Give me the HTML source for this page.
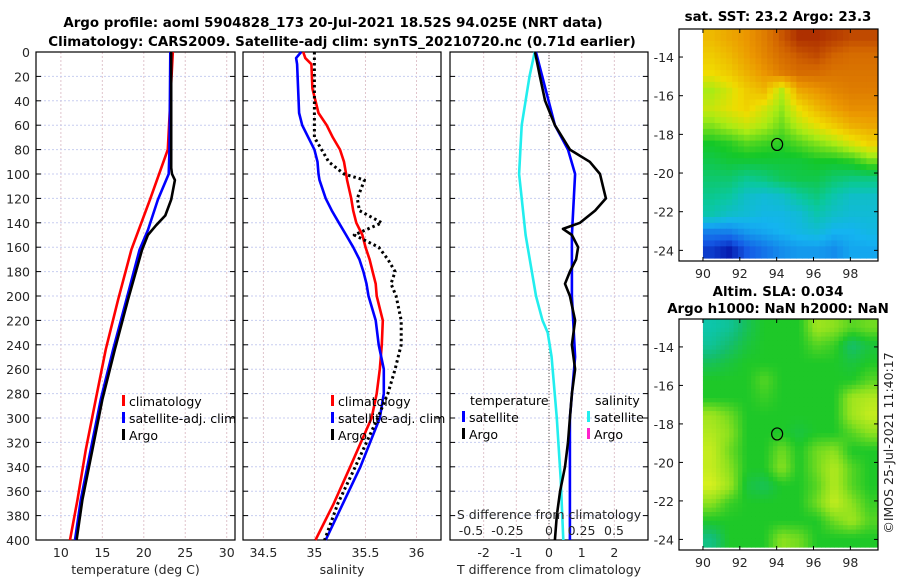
<!DOCTYPE html>
<html><head><meta charset="utf-8"><style>
body{margin:0;background:#fff}
svg{font-family:"DejaVu Sans","Liberation Sans",sans-serif;display:block}
.tk{font-size:12.5px;fill:#262626}
.tt{font-size:13.4px;font-weight:bold;fill:#000}
.lg{font-size:12.5px;fill:#000}
</style></head><body>
<svg id="c" width="900" height="580" viewBox="0 0 900 580">
<text class="tt" x="333" y="27" text-anchor="middle">Argo profile: aoml 5904828_173 20-Jul-2021 18.52S 94.025E (NRT data)</text>
<text class="tt" x="342" y="46" text-anchor="middle">Climatology: CARS2009. Satellite-adj clim: synTS_20210720.nc (0.71d earlier)</text>
<text class="tt" x="778" y="21" text-anchor="middle">sat. SST: 23.2 Argo: 23.3</text>
<text class="tt" x="778" y="296" text-anchor="middle">Altim. SLA: 0.034</text>
<text class="tt" x="778" y="313" text-anchor="middle">Argo h1000: NaN h2000: NaN</text>
<text class="tk" transform="translate(893,443) rotate(-90)" text-anchor="middle">©IMOS 25-Jul-2021 11:40:17</text>
<g id="g"></g>
</svg>
<script>
// ---- profile data ----
const depthClimT=[0,80,121,162,203,244,285,326,367,400];
const climT=[23.5,22.9,20.75,18.5,16.9,15.4,14.2,13.0,12.0,11.1];
const depthSatT=[0,80,100,121,146,162,203,244,285,326,367,400];
const satT=[23.2,23.1,23.0,21.7,20.5,19.5,17.9,16.3,14.8,13.6,12.4,11.7];
const depthArgoT=[0,95,100,105,121,134,142,150,162,203,244,285,326,367,400];
const argoT=[23.3,23.3,23.4,23.75,23.3,22.6,21.5,20.5,19.8,18.1,16.5,15.0,13.8,12.6,11.9];

const depthS=[0,5,10,30,50,60,70,80,90,100,105,120,130,140,150,160,170,180,190,200,220,240,260,280,300,340,370,400];
const climS=[34.89,34.91,34.97,34.98,35.04,35.12,35.18,35.25,35.29,35.31,35.32,35.36,35.38,35.41,35.47,35.5,35.54,35.57,35.6,35.61,35.67,35.66,35.64,35.61,35.56,35.35,35.19,35.01];
const satS=[34.87,34.82,34.83,34.84,34.85,34.88,34.94,35.0,35.03,35.04,35.05,35.11,35.17,35.24,35.31,35.38,35.44,35.48,35.51,35.53,35.6,35.63,35.68,35.68,35.64,35.45,35.28,35.11];
const argoS=[35.0,35.0,35.0,35.0,35.0,35.0,35.0,35.07,35.14,35.29,35.49,35.42,35.44,35.66,35.39,35.63,35.72,35.79,35.75,35.8,35.85,35.85,35.79,35.72,35.62,35.4,35.23,35.1];

const depthD=[0,20,40,60,80,90,100,110,120,130,140,145,150,160,170,180,190,200,220,240,260,280,300,320,340,360,380,400];
const argoDT=[-0.43,-0.28,-0.12,0.18,0.64,1.25,1.56,1.65,1.74,1.41,0.95,0.43,0.7,0.89,0.83,0.64,0.49,0.64,0.8,0.7,0.8,0.7,0.64,0.58,0.49,0.34,0.24,0.18];
const depthSatD=[0,60,80,100,150,200,250,300,400];
const satDT=[-0.4,0.18,0.58,0.8,0.7,0.7,0.8,0.64,0.64];
const depthCy=[0,20,40,60,80,100,150,200,220,230,250,300,350,400];
const satDS=[-0.11,-0.15,-0.18,-0.21,-0.22,-0.23,-0.18,-0.1,-0.05,-0.01,0.02,0.06,0.09,0.11];

const tTicks=[10,15,20,25,30], sTicks=[34.5,35,35.5,36], dTicks=[-2,-1,0,1,2];
const dsTickLabels=["-0.5","-0.25","0","0.25","0.5"];
const dsTickVals=[-0.6,-0.32,0,0.25,0.5];
const yTicks=[0,20,40,60,80,100,120,140,160,180,200,220,240,260,280,300,320,340,360,380,400];

// ---- map data (rows north->south, cols west->east) ----
const sstRows=[
[24.6,24.8,25,25.3,25.7,26,26,25.9,25.8,25.8],
[24.4,24.6,24.9,25.2,25.5,25.7,25.8,25.6,25.5,25.5],
[24.2,24.4,24.7,25,25.3,25.5,25.5,25.4,25.4,25.4],
[23.7,24.0,24.4,24.6,23.8,24.8,25.0,25.2,25.3,25.3],
[23.9,24.1,24.3,24.0,23.6,24.2,24.6,24.9,25.1,25.1],
[23.5,23.7,23.9,23.7,23.4,23.8,24.1,24.4,24.7,24.8],
[23.0,23.1,23.3,23.2,23.1,23.3,23.5,23.7,24.0,24.3],
[22.8,22.9,22.9,22.9,22.9,22.9,23.0,23.0,23.1,23.4],
[22.6,22.6,22.4,22.5,22.7,22.8,22.8,22.6,22.5,22.5],
[22.4,22.3,22.0,21.9,22.0,22.3,22.5,22.2,22.0,22.0],
[22.2,22.0,21.9,21.8,21.8,21.9,22.2,22.0,21.9,21.9],
[21.3,21.3,21.5,21.6,21.7,21.8,21.9,21.7,21.7,21.8],
[20.8,20.6,21.0,21.2,21.4,21.5,21.5,21.4,21.6,21.6]];
const slaRows=[
[-0.6,-0.5,-0.2,0,0,0,0.5,0.4,0.2,0.3],
[-0.5,-0.3,-0.1,0,0,0,0.2,0.1,-0.3,-0.1],
[-0.2,-0.1,0,0,0,0,0,0,-0.1,0],
[0,0,0,0.2,0,0,0,0,0,0.2],
[0,0,0,0.1,0,0,0,0,0.5,0.6],
[0.5,0.3,0,0,0,0,0,0,0.5,0.7],
[0.6,0.4,0,0,0,-0.1,0,0,0.2,0.4],
[0.7,0.3,0,0,0.3,0,0.3,0.4,0,0],
[0.7,0.4,0,0,0.4,0,0.3,0.6,0.2,0],
[0.8,0.5,-0.1,-0.2,0,0,0.2,0.6,0.2,0],
[0.4,0.1,0,0,0,0,0.3,0.7,0.4,0.1],
[0,0,0,0,0,0,0,0.3,0.5,0.2],
[-0.4,0,0,0,0.4,0.3,0,0,0,0]];
const latTicks=[-14,-16,-18,-20,-22,-24], lonTicks=[90,92,94,96,98];

const NS='http://www.w3.org/2000/svg', G=document.getElementById('g');
function mk(t,a,p){const e=document.createElementNS(NS,t);for(const k in a)e.setAttribute(k,a[k]);(p||G).appendChild(e);return e;}
const Y0=52,Y1=540; const y=d=>Y0+(d/400)*(Y1-Y0);
function lin(d0,d1,r0,r1){return v=>r0+(v-d0)/(d1-d0)*(r1-r0);}
const panels=[
 {x0:36,x1:235,sx:lin(7,31,36,235),ticks:tTicks,lab:"temperature (deg C)",name:"temperature"},
 {x0:243,x1:441,sx:lin(34.3,36.24,243,441),ticks:sTicks,lab:"salinity",name:"salinity"},
 {x0:450,x1:648,sx:lin(-3.03,3.03,450,648),ticks:dTicks,lab:"T difference from climatology",name:"difference"}];
panels.forEach((P,i)=>{
 const g=mk('g',{});
 
 
 P.ticks.forEach(t=>{const X=P.sx(t);mk('line',{x1:X,x2:X,y1:Y0,y2:Y1,stroke:'#e0c4cc','stroke-dasharray':'2,2','stroke-width':1},g);
  const tx=mk('text',{x:X,y:557,class:'tk','text-anchor':'middle'},g);tx.textContent=String(t);});
 yTicks.forEach(d=>{mk('line',{x1:P.x0,x2:P.x1,y1:y(d),y2:y(d),stroke:'#c8cef0','stroke-dasharray':'2,2','stroke-width':1},g);
  mk('line',{x1:P.x0,x2:P.x0+5,y1:y(d),y2:y(d),stroke:'#000'},g);mk('line',{x1:P.x1-5,x2:P.x1,y1:y(d),y2:y(d),stroke:'#000'},g);
  if(i==0){const tx=mk('text',{x:30,y:y(d)+5,class:'tk','text-anchor':'end'},g);tx.textContent=String(d);}});
 mk('rect',{x:P.x0,y:Y0,width:P.x1-P.x0,height:Y1-Y0,fill:'none',stroke:'#000','stroke-width':1.2},g);
 const al=mk('text',{x:(P.x0+P.x1)/2,y:574,class:'tk','text-anchor':'middle'},g);al.textContent=P.lab;
 
});
function line(xs,ds,sx,col,name,dash,w){
 const pts=xs.map((v,k)=>sx(v).toFixed(1)+','+y(ds[k]).toFixed(1)).join(' ');
 const e=mk('polyline',{points:pts,fill:'none',stroke:col,'stroke-width':w||2.6,'stroke-linejoin':'round'});
 if(dash){e.setAttribute('stroke-dasharray',dash);}
 
 
}
const P1=panels[0].sx,P2=panels[1].sx,P3=panels[2].sx, sD=v=>549+v*130;
mk('line',{x1:P3(0),x2:P3(0),y1:Y0,y2:Y1,stroke:'#555','stroke-dasharray':'1,2'});
line(climT,depthClimT,P1,'#f00','temp-climatology-line');
line(satT,depthSatT,P1,'#00f','temp-satellite-line');
line(argoT,depthArgoT,P1,'#000','temp-argo-line');
line(climS,depthS,P2,'#f00','sal-climatology-line');
line(satS,depthS,P2,'#00f','sal-satellite-line');
line(argoS,depthS,P2,'#000','sal-argo-line','2.5,3',3);
line(satDS,depthCy,sD,'#22eeee','sal-diff-satellite-line');
line(satDT,depthSatD,P3,'#00f','temp-diff-satellite-line');
line(argoDT,depthD,P3,'#000','temp-diff-argo-line');
const st=mk('text',{x:549,y:519,class:'tk','text-anchor':'middle'});st.textContent='S difference from climatology';

dsTickLabels.forEach((l,k)=>{const t=mk('text',{x:sD(dsTickVals[k]),y:535,class:'tk','text-anchor':'middle'});t.textContent=l;});
function leg(x,yy,col,txt,name){const g=mk('g',{});
 if(col)mk('rect',{x:x,y:yy-11,width:3,height:11,fill:col},g);const t=mk('text',{x:x+7,y:yy,class:'lg'},g);t.textContent=txt;}
leg(122,406,'#f00','climatology','legend-climatology');leg(122,423,'#00f','satellite-adj. clim','legend-satellite');leg(122,440,'#000','Argo','legend-argo');
leg(331,406,'#f00','climatology','legend2-climatology');leg(331,423,'#00f','satellite-adj. clim','legend2-satellite');leg(331,440,'#000','Argo','legend2-argo');
leg(463,405,null,'temperature','legend3-temperature');leg(462,422,'#00f','satellite','legend3-t-satellite');leg(462,439,'#000','Argo','legend3-t-argo');
leg(588,405,null,'salinity','legend3-salinity');leg(587,422,'#22eeee','satellite','legend3-s-satellite');leg(587,439,'#ff22cc','Argo','legend3-s-argo');
// maps
const jet=[[20.4,[0,0,150]],[21,[20,90,230]],[21.7,[20,180,240]],[22.3,[10,200,160]],[23,[20,200,40]],[23.7,[170,235,20]],[24.2,[240,220,0]],[25,[235,150,0]],[25.6,[210,100,0]],[26.1,[165,35,0]]];
const slaC=[[-0.7,[10,200,190]],[-0.3,[20,190,110]],[0,[30,200,40]],[0.4,[140,225,30]],[0.8,[215,240,30]]];
function cmap(s,v){if(v<=s[0][0])return s[0][1];for(let k=1;k<s.length;k++){if(v<=s[k][0]){const f=(v-s[k-1][0])/(s[k][0]-s[k-1][0]);return s[k-1][1].map((c,j)=>Math.round(c+f*(s[k][1][j]-c)));}}return s[s.length-1][1];}
function bil(rows,r,c){const nr=rows.length-1,nc=rows[0].length-1;r=Math.max(0,Math.min(nr,r));c=Math.max(0,Math.min(nc,c));
 const r0=Math.min(Math.floor(r),nr-1),c0=Math.min(Math.floor(c),nc-1),fr=r-r0,fc=c-c0;
 return rows[r0][c0]*(1-fr)*(1-fc)+rows[r0][c0+1]*(1-fr)*fc+rows[r0+1][c0]*fr*(1-fc)+rows[r0+1][c0+1]*fr*fc;}
function map(top,bot,rows,sc,name,sub){
 const g=mk('g',{});
 const lx=lin(88.7,99.5,679,878), ly=lin(-12.55,-24.55,top,bot);
 const nr=rows.length,nc=rows[0].length,lon0=90,lon1=99.5,lat0=-12.55,lat1=-24.4;
 const NR=nr*sub,NC=nc*sub;
 for(let i=0;i<NR;i++)for(let j=0;j<NC;j++){
  const v=bil(rows,(i+0.5)/sub-0.5,(j+0.5)/sub-0.5);
  const xa=lx(lon0+(lon1-lon0)*j/NC),xb=lx(lon0+(lon1-lon0)*(j+1)/NC),ya=ly(lat0+(lat1-lat0)*i/NR),yb=ly(lat0+(lat1-lat0)*(i+1)/NR);
  const c=cmap(sc,v);const e=mk('rect',{x:xa.toFixed(2),y:ya.toFixed(2),width:(xb-xa+0.5).toFixed(2),height:(yb-ya+0.5).toFixed(2),fill:'rgb('+c.join(',')+')'},g);
  
  }
 mk('rect',{x:679,y:top,width:199,height:bot-top,fill:'none',stroke:'#000','stroke-width':1.2},g);
 latTicks.forEach(t=>{const Y=ly(t);mk('line',{x1:679,x2:683,y1:Y,y2:Y,stroke:'#000'},g);mk('line',{x1:874,x2:878,y1:Y,y2:Y,stroke:'#000'},g);
  const tx=mk('text',{x:674,y:Y+5,class:'tk','text-anchor':'end'},g);tx.textContent=String(t);});
 lonTicks.forEach(t=>{const X=lx(t);mk('line',{x1:X,x2:X,y1:bot,y2:bot-4,stroke:'#000'},g);mk('line',{x1:X,x2:X,y1:top,y2:top+4,stroke:'#000'},g);
  const tx=mk('text',{x:X,y:bot+17,class:'tk','text-anchor':'middle'},g);tx.textContent=String(t);});
 const c=mk('ellipse',{cx:lx(94.025),cy:ly(-18.52),rx:5.5,ry:6,fill:'none',stroke:'#000','stroke-width':1.2},g);
 
 
}
map(29,261,sstRows,jet,'sst-map',3);
map(319,550,slaRows,slaC,'sla-map',4);
</script>
</body></html>
